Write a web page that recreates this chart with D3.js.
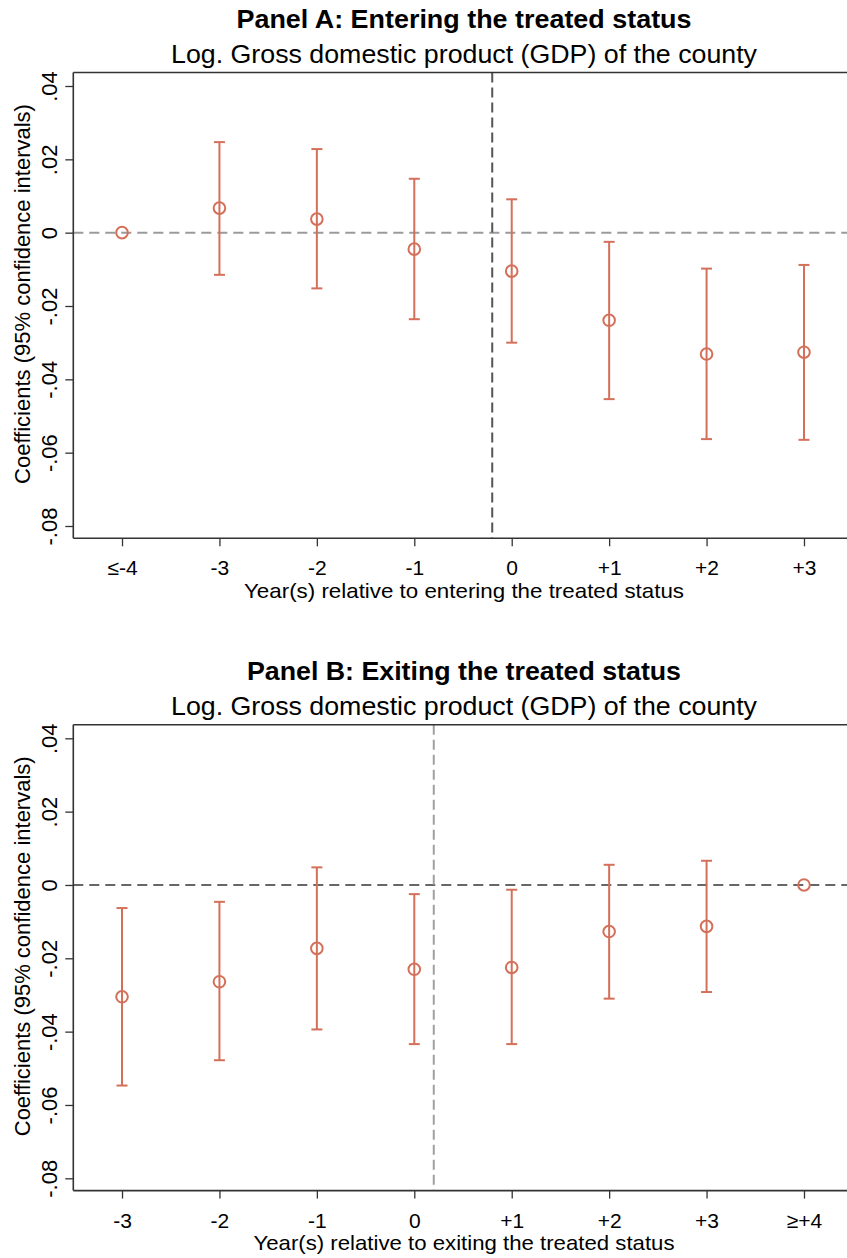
<!DOCTYPE html>
<html>
<head>
<meta charset="utf-8">
<script src="https://cdn.jsdelivr.net/npm/d3@7"></script>
<style>
  body { margin: 0; background: #fff; }
  text { font-family: "Liberation Sans", Arial, sans-serif; fill: #000; }
</style>
</head>
<body>
<div class="container"></div>
<script>
"use strict";

// ---- data ----
const yTicks = [0.04, 0.02, 0, -0.02, -0.04, -0.06, -0.08]

const catsA = ["≤-4", "-3", "-2", "-1", "0", "+1", "+2", "+3"]
const coefA = [0, 0.0067, 0.0037, -0.0045, -0.0105, -0.0239, -0.0331, -0.0326]
const lowA = [null, -0.0115, -0.0152, -0.0236, -0.0300, -0.0454, -0.0563, -0.0565]
const highA = [null, 0.0247, 0.0228, 0.0147, 0.0091, -0.0025, -0.0098, -0.0088]

const catsB = ["-3", "-2", "-1", "0", "+1", "+2", "+3", "≥+4"]
const coefB = [-0.0305, -0.0264, -0.0173, -0.0230, -0.0225, -0.0127, -0.0113, 0]
const lowB = [-0.0547, -0.0478, -0.0394, -0.0434, -0.0434, -0.0310, -0.0292, null]
const highB = [-0.0063, -0.0046, 0.0048, -0.0025, -0.0013, 0.0055, 0.0066, null]

//the p(properties) of the drawing
const p = {
	width: 847,
	height: 1258,
	left: 73.3,
	right: 852.7,
	top: 72.5,
	bottom: 538.3,
	panelGap: 652.3,
	markColor: '#d4705a'
}

const svg = d3.select('.container')
	.append('svg')
	.attr('width', p.width)
	.attr('height', p.height)
	.style('display', 'block')

svg.append('rect').attr('width', p.width).attr('height', p.height).attr('fill', '#fff')

//stata style labels: .04, -.02, 0
function fmt(v) {
	if (Math.abs(v) < 1e-9) return '0'
	return d3.format('.2f')(v).replace('0.', '.').replace('−', '-')
}

function drawPanel(offY, o, cats, coef, low, high) {
	const g = svg.append('g').attr('transform', 'translate(0,' + offY + ')')

	const x = d3.scaleLinear().domain([-0.5, cats.length - 0.5]).range([p.left, p.right])
	const y = d3.scaleLinear().domain([0.04, -0.08]).range([86, 526])
	const mid = 464

	//titles
	g.append('text')
		.attr('x', mid).attr('y', 28)
		.attr('text-anchor', 'middle')
		.style('font-size', '25px').style('font-weight', 'bold')
		.attr('textLength', o.titleLen).attr('lengthAdjust', 'spacingAndGlyphs')
		.text(o.title)
	g.append('text')
		.attr('x', mid).attr('y', 63)
		.attr('text-anchor', 'middle')
		.style('font-size', '26px')
		.attr('textLength', 586).attr('lengthAdjust', 'spacingAndGlyphs')
		.text(o.subtitle)

	//reference lines
	g.append('line')
		.attr('x1', p.left).attr('x2', p.right)
		.attr('y1', y(0)).attr('y2', y(0))
		.attr('stroke', o.hColor).attr('stroke-width', 2)
		.attr('stroke-dasharray', '10,6')
	g.append('line')
		.attr('x1', x(o.vLine)).attr('x2', x(o.vLine))
		.attr('y1', p.top).attr('y2', p.bottom)
		.attr('stroke', o.vColor).attr('stroke-width', 2)
		.attr('stroke-dasharray', '10,5')

	//frame (top line; right edge falls outside the picture)
	g.append('line')
		.attr('x1', p.left).attr('x2', p.right)
		.attr('y1', p.top).attr('y2', p.top)
		.attr('stroke', '#333').attr('stroke-width', 1.6)

	//y axis
	const yAxis = g.append('g')
		.attr('transform', 'translate(' + p.left + ',0)')
		.call(d3.axisLeft(y).tickValues(yTicks).tickSize(8).tickSizeOuter(0).tickFormat(fmt))
	yAxis.select('.domain').attr('d', 'M0,' + p.top + 'V' + p.bottom)
		.attr('stroke', '#333').attr('stroke-width', 1.6)
	yAxis.selectAll('.tick line').attr('stroke', '#333').attr('stroke-width', 1.3)
	yAxis.selectAll('.tick text')
		.attr('x', null).attr('dy', null)
		.attr('transform', 'translate(-16,0) rotate(-90)')
		.attr('text-anchor', 'middle')
		.style('font-size', '22px')
		.style('font-family', '"Liberation Sans", Arial, sans-serif')
		.attr('fill', '#000')

	//x axis
	const xAxis = g.append('g')
		.attr('transform', 'translate(0,' + p.bottom + ')')
		.call(d3.axisBottom(x).tickValues(d3.range(cats.length)).tickSize(8).tickSizeOuter(0)
			.tickFormat(i => cats[i]))
	xAxis.select('.domain').attr('d', 'M' + p.left + ',0H' + p.right)
		.attr('stroke', '#333').attr('stroke-width', 1.6)
	xAxis.selectAll('.tick line').attr('stroke', '#333').attr('stroke-width', 1.3)
	xAxis.selectAll('.tick text')
		.attr('y', 37).attr('dy', null)
		.style('font-size', '21px')
		.style('font-family', '"Liberation Sans", Arial, sans-serif')
		.attr('fill', '#000')

	//axis titles
	g.append('text')
		.attr('x', mid).attr('y', 598)
		.attr('text-anchor', 'middle')
		.style('font-size', '21px')
		.attr('textLength', o.xTitleLen).attr('lengthAdjust', 'spacingAndGlyphs')
		.text(o.xTitle)
	g.append('text')
		.attr('transform', 'translate(30,' + 294 + ') rotate(-90)')
		.attr('text-anchor', 'middle')
		.style('font-size', '22px')
		.text('Coefficients (95% confidence intervals)')

	//confidence intervals
	const rows = cats.map((c, i) => ({ i: i, b: coef[i], lo: low[i], hi: high[i] }))
	const ci = rows.filter(d => d.lo !== null)
	g.selectAll('.ci').data(ci).enter().append('line')
		.attr('x1', d => x(d.i)).attr('x2', d => x(d.i))
		.attr('y1', d => y(d.hi)).attr('y2', d => y(d.lo))
		.attr('stroke', p.markColor).attr('stroke-width', 2)
	g.selectAll('.capTop').data(ci).enter().append('line')
		.attr('x1', d => x(d.i) - 5.5).attr('x2', d => x(d.i) + 5.5)
		.attr('y1', d => y(d.hi)).attr('y2', d => y(d.hi))
		.attr('stroke', p.markColor).attr('stroke-width', 2)
	g.selectAll('.capBot').data(ci).enter().append('line')
		.attr('x1', d => x(d.i) - 5.5).attr('x2', d => x(d.i) + 5.5)
		.attr('y1', d => y(d.lo)).attr('y2', d => y(d.lo))
		.attr('stroke', p.markColor).attr('stroke-width', 2)

	//point estimates
	g.selectAll('.pt').data(rows).enter().append('circle')
		.attr('cx', d => x(d.i)).attr('cy', d => y(d.b))
		.attr('r', 5.8)
		.attr('fill', 'none')
		.attr('stroke', p.markColor).attr('stroke-width', 2)
}

drawPanel(0, {
	title: 'Panel A: Entering the treated status', titleLen: 455,
	subtitle: 'Log. Gross domestic product (GDP) of the county',
	xTitle: 'Year(s) relative to entering the treated status', xTitleLen: 440,
	vLine: 3.8, hColor: '#9a9a9a', vColor: '#555'
}, catsA, coefA, lowA, highA)

drawPanel(p.panelGap, {
	title: 'Panel B: Exiting the treated status', titleLen: 434,
	subtitle: 'Log. Gross domestic product (GDP) of the county',
	xTitle: 'Year(s) relative to exiting the treated status', xTitleLen: 421,
	vLine: 3.2, hColor: '#666', vColor: '#a0a0a0'
}, catsB, coefB, lowB, highB)
</script>
</body>
</html>
